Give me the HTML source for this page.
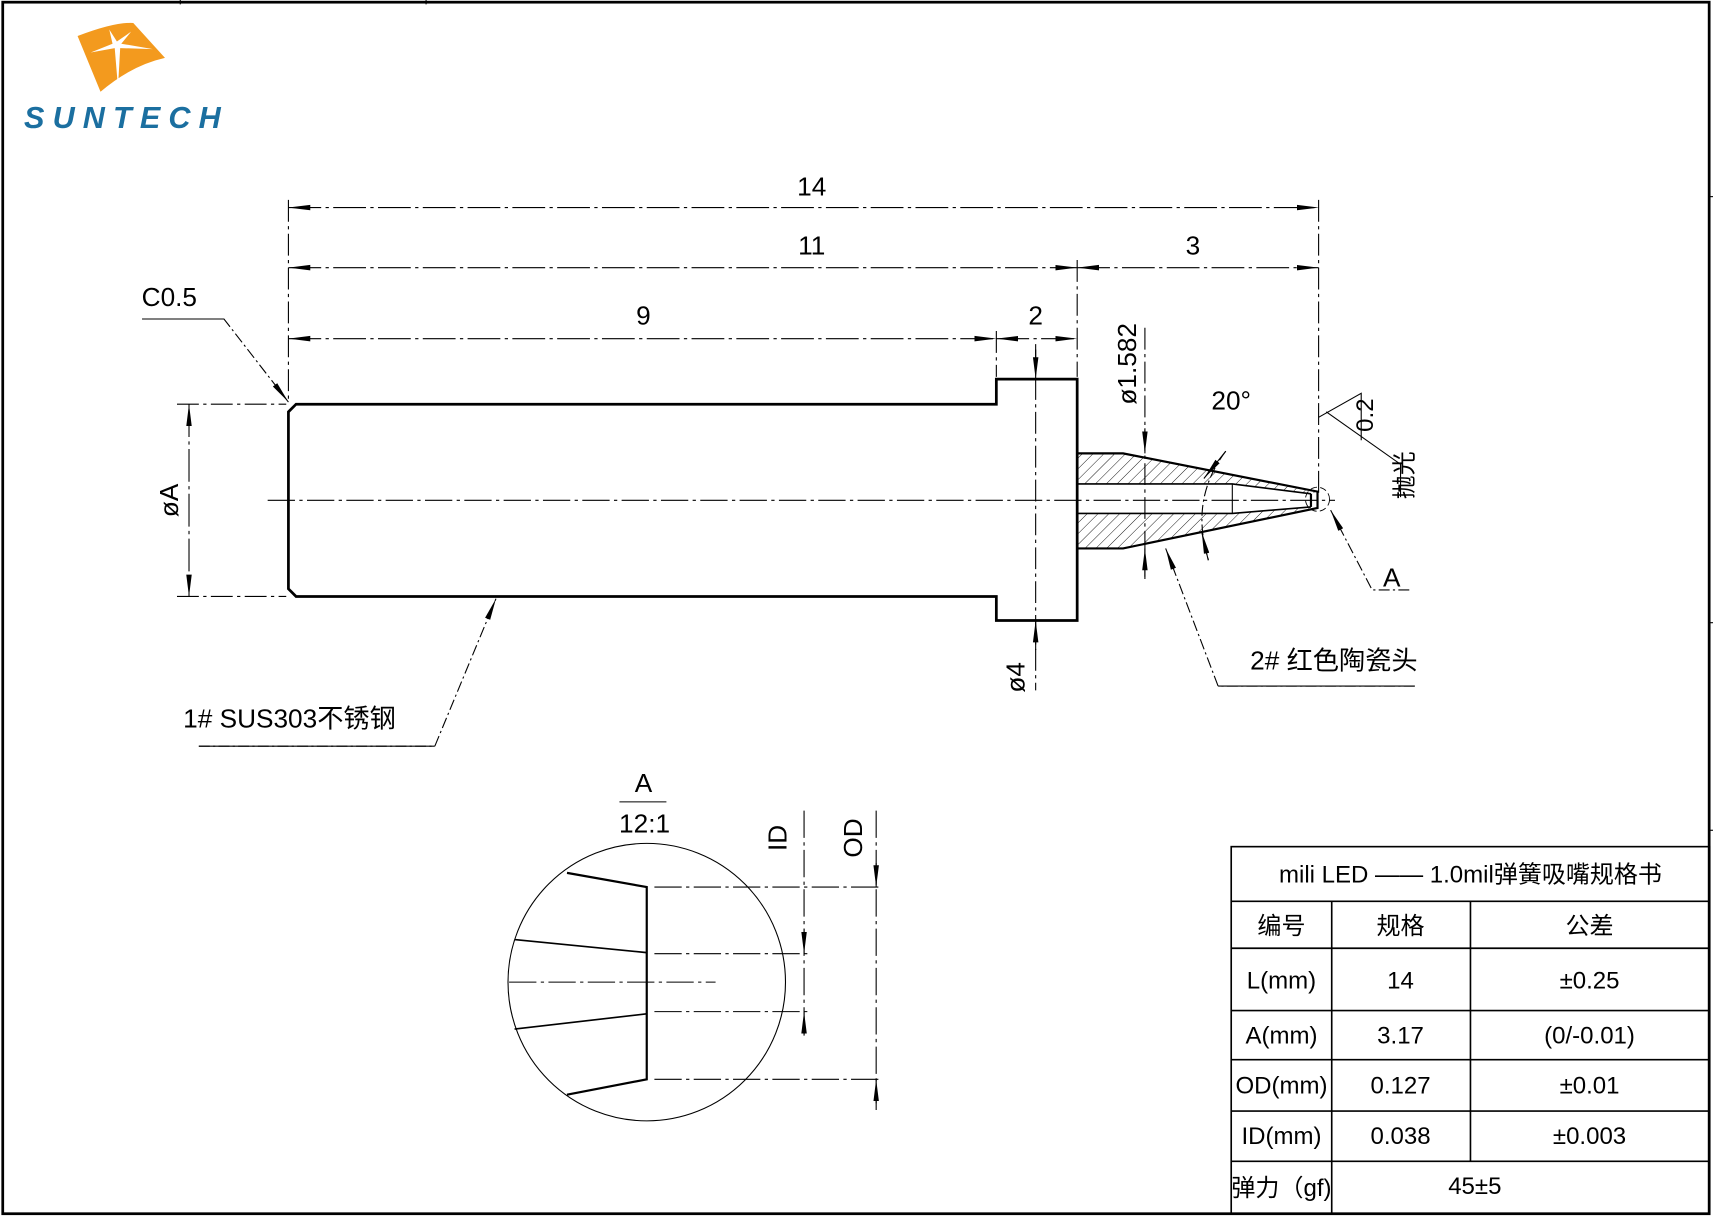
<!DOCTYPE html>
<html><head><meta charset="utf-8"><style>
html,body{margin:0;padding:0;background:#fff;}
svg{display:block}
text{font-family:"Liberation Sans Narrow","Liberation Sans","Noto Sans CJK SC",sans-serif;fill:#000}
</style></head><body>
<svg width="1713" height="1217" viewBox="0 0 1568 1114" xmlns="http://www.w3.org/2000/svg">
<defs>
<pattern id="h" width="7" height="7" patternUnits="userSpaceOnUse" patternTransform="rotate(45)">
<line x1="0" y1="0" x2="0" y2="7" stroke="#000" stroke-width="0.8"/></pattern>
<marker id="ar" viewBox="0 0 20 8" refX="20" refY="4" markerWidth="20" markerHeight="8" markerUnits="userSpaceOnUse" orient="auto-start-reverse"><path d="M0,1.5 L20,4 L0,6.5z" fill="#000"/></marker>
</defs>
<g fill="none" stroke="#000">
<!-- frame -->
<rect x="2.5" y="2" width="1562" height="1109" stroke-width="2.5"/>
<g stroke-width="1"><line x1="165" y1="0" x2="165" y2="4"/><line x1="390" y1="0" x2="390" y2="4"/><line x1="1565" y1="180" x2="1568" y2="180"/><line x1="1565" y1="570" x2="1568" y2="570"/><line x1="1565" y1="760" x2="1568" y2="760"/></g>

<!-- centerline -->
<line x1="245" y1="458" x2="1222" y2="458" stroke-width="1" stroke-dasharray="25,4,3,4"/>

<!-- body -->
<path d="M271,370 L912,370 L912,347 L986,347 L986,568 L912,568 L912,546 L271,546 L264,539 L264,377 Z" stroke-width="2.5"/>
<!-- tip -->
<path d="M986,415 L1028,415 L1206,450 L1200,452 L1128,443 L986,443 Z" fill="url(#h)" stroke="none"/>
<path d="M986,502 L1028,502 L1206,465 L1200,464 L1128,470 L986,470 Z" fill="url(#h)" stroke="none"/>
<path d="M986,415 L1028,415 L1206,450 L1206,465 L1028,502 L986,502" stroke-width="2"/>
<path d="M986,443 L1128,443 L1200,452 M986,470 L1128,470 L1200,464" stroke-width="1.5"/>
<line x1="1128" y1="443" x2="1128" y2="470" stroke-width="1"/>
<line x1="1200" y1="452" x2="1200" y2="464" stroke-width="2"/>
<circle cx="1206" cy="457" r="11" stroke-width="0.8" stroke-dasharray="6,3"/>

<!-- extension lines -->
<g stroke-width="1" stroke-dasharray="20,4,3,4">
<line x1="264" y1="183" x2="264" y2="368"/>
<line x1="1207" y1="183" x2="1207" y2="452"/>
<line x1="986" y1="238" x2="986" y2="345"/>
<line x1="912" y1="303" x2="912" y2="345"/>
<line x1="162" y1="370" x2="262" y2="370"/>
<line x1="162" y1="546" x2="262" y2="546"/>
<line x1="1048" y1="300" x2="1048" y2="530"/>
<line x1="948" y1="315" x2="948" y2="632"/>
</g>
<!-- dims -->
<g stroke-width="1" stroke-dasharray="30,4,3,4">
<line x1="264" y1="190" x2="1207" y2="190" marker-start="url(#ar)" marker-end="url(#ar)"/>
<line x1="264" y1="245" x2="986" y2="245" marker-start="url(#ar)" marker-end="url(#ar)"/>
<line x1="986" y1="245" x2="1207" y2="245" marker-start="url(#ar)" marker-end="url(#ar)"/>
<line x1="264" y1="310" x2="912" y2="310" marker-start="url(#ar)" marker-end="url(#ar)"/>
<line x1="912" y1="310" x2="986" y2="310" marker-start="url(#ar)" marker-end="url(#ar)"/>
<line x1="173" y1="370" x2="173" y2="546" marker-start="url(#ar)" marker-end="url(#ar)"/>
</g>
<line x1="948" y1="320" x2="948" y2="347" stroke-width="1" marker-end="url(#ar)"/>
<line x1="948" y1="595" x2="948" y2="568" stroke-width="1" marker-end="url(#ar)"/>
<line x1="1048" y1="392" x2="1048" y2="415" stroke-width="1" marker-end="url(#ar)"/>
<line x1="1048" y1="528" x2="1048" y2="502" stroke-width="1" marker-end="url(#ar)"/>
<!-- 20 deg arc -->
<path d="M1122,413 Q1088,458 1107,515" stroke-width="1" stroke-dasharray="10,3,2,3"/>
<line x1="1122" y1="413" x2="1102" y2="438" stroke-width="1" marker-end="url(#ar)"/>
<line x1="1106" y1="513" x2="1100" y2="487" stroke-width="1" marker-end="url(#ar)"/>
<!-- roughness -->
<path d="M1207,382 L1246,360 L1246,403" stroke-width="1"/>
<path d="M1214,377 L1282,425 L1282,455" stroke-width="1"/>
<!-- leaders -->
<path d="M132,292 L205,292 L264,368" stroke-width="1" stroke-dasharray="10,3,2,3" marker-end="url(#ar)"/>
<path d="M1290,540 L1256,540 L1218,467" stroke-width="1" stroke-dasharray="10,3,2,3" marker-end="url(#ar)"/>
<path d="M182,683 L398,683 L454,548" stroke-width="1" stroke-dasharray="10,3,2,3" marker-end="url(#ar)"/>
<path d="M1295,628 L1115,628 L1067,502" stroke-width="1" stroke-dasharray="10,3,2,3" marker-end="url(#ar)"/>
<line x1="130" y1="292" x2="205" y2="292" stroke-width="1"/>
<line x1="182" y1="683" x2="398" y2="683" stroke-width="1"/>
<line x1="1115" y1="628" x2="1295" y2="628" stroke-width="1"/>

<!-- detail -->
<circle cx="592" cy="899" r="127" stroke-width="1"/>
<line x1="567" y1="734" x2="610" y2="734" stroke-width="1"/>
<path d="M519,799 L592,812 L592,988 L519,1002" stroke-width="2"/>
<path d="M471,860 L592,872 M471,942 L592,928" stroke-width="1.5"/>
<g stroke-width="1" stroke-dasharray="25,4,3,4">
<line x1="466" y1="899" x2="655" y2="899"/>
<line x1="599" y1="812" x2="805" y2="812"/>
<line x1="599" y1="988" x2="805" y2="988"/>
<line x1="599" y1="873" x2="742" y2="873"/>
<line x1="599" y1="926" x2="742" y2="926"/>
<line x1="802" y1="742" x2="802" y2="1016"/>
<line x1="736" y1="742" x2="736" y2="950"/>
</g>
<line x1="802" y1="790" x2="802" y2="812" stroke-width="1" marker-end="url(#ar)"/>
<line x1="802" y1="1010" x2="802" y2="988" stroke-width="1" marker-end="url(#ar)"/>
<line x1="736" y1="850" x2="736" y2="873" stroke-width="1" marker-end="url(#ar)"/>
<line x1="736" y1="948" x2="736" y2="926" stroke-width="1" marker-end="url(#ar)"/>

<!-- table -->
<g stroke-width="1.5">
<rect x="1127" y="775" width="438" height="336"/>
<line x1="1127" y1="825" x2="1565" y2="825"/>
<line x1="1127" y1="868" x2="1565" y2="868"/>
<line x1="1127" y1="925" x2="1565" y2="925"/>
<line x1="1127" y1="970" x2="1565" y2="970"/>
<line x1="1127" y1="1017" x2="1565" y2="1017"/>
<line x1="1127" y1="1063" x2="1565" y2="1063"/>
<line x1="1219" y1="825" x2="1219" y2="1111"/>
<line x1="1346" y1="825" x2="1346" y2="1063"/>
</g>
</g>

<!-- logo -->
<path d="M71,33 Q105,20 122,21 L151,53 Q120,60 92,84 Z" fill="#f39a1e"/>
<path d="M100,27 L103,40 L83,48 L105,44 L108,80 L110,44 L140,45 L111,40 L120,29 L107,38 Z" fill="#fff"/>
<text x="22" y="117" font-size="28" font-weight="bold" font-style="italic" fill="#1b6fa0" style="fill:#1b6fa0;font-family:'Liberation Sans',sans-serif" textLength="180">SUNTECH</text>

<g font-size="24" text-anchor="middle">
<text x="743" y="179">14</text>
<text x="743" y="233">11</text>
<text x="1092" y="233">3</text>
<text x="589" y="297">9</text>
<text x="948" y="297">2</text>
<text x="155" y="280">C0.5</text>
<text x="1127" y="375">20°</text>
<text x="1274" y="537">A</text>
<text transform="translate(163,458) rotate(-90)">øA</text>
<text transform="translate(938,620) rotate(-90)">ø4</text>
<text transform="translate(1040,333) rotate(-90)">ø1.582</text>
<text transform="translate(1257,380) rotate(-90)" font-size="22">0.2</text>
<text transform="translate(1293,435) rotate(-90)" font-size="22">抛光</text>
<text x="265" y="666">1# SUS303不锈钢</text>
<text x="1221" y="613">2# 红色陶瓷头</text>
<text x="589" y="725">A</text>
<text x="590" y="762">12:1</text>
<text transform="translate(720,767) rotate(-90)">ID</text>
<text transform="translate(789,767) rotate(-90)">OD</text>
</g>
<g font-size="22" text-anchor="middle">
<text x="1346" y="808">mili LED —— 1.0mil弹簧吸嘴规格书</text>
<text x="1173" y="855">编号</text>
<text x="1282" y="855">规格</text>
<text x="1455" y="855">公差</text>
<text x="1173" y="905">L(mm)</text>
<text x="1282" y="905">14</text>
<text x="1455" y="905">±0.25</text>
<text x="1173" y="955">A(mm)</text>
<text x="1282" y="955">3.17</text>
<text x="1455" y="955">(0/-0.01)</text>
<text x="1173" y="1001">OD(mm)</text>
<text x="1282" y="1001">0.127</text>
<text x="1455" y="1001">±0.01</text>
<text x="1173" y="1047">ID(mm)</text>
<text x="1282" y="1047">0.038</text>
<text x="1455" y="1047">±0.003</text>
<text x="1173" y="1095">弹力（gf)</text>
<text x="1350" y="1093">45±5</text>
</g>
</svg>
</body></html>
